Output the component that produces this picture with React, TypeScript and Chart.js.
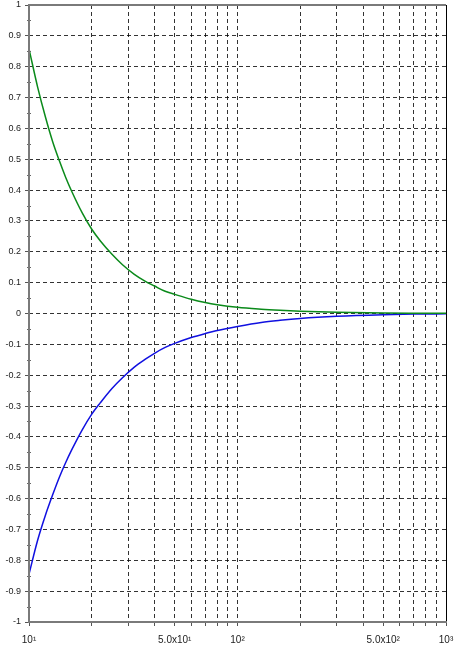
import React, { useEffect, useRef } from "react";
import { Chart, registerables } from "chart.js";

Chart.register(...registerables);

const xValues = [10, 11, 12, 13, 14, 15, 16, 18, 20, 22, 25, 28, 32, 36, 40, 45, 50, 60, 70, 80, 100, 130, 160, 200, 300, 500, 700, 1000];
const greenValues = [0.858, 0.734, 0.636, 0.556, 0.494, 0.441, 0.397, 0.326, 0.273, 0.235, 0.192, 0.159, 0.127, 0.105, 0.089, 0.072, 0.062, 0.046, 0.0355, 0.0285, 0.02, 0.014, 0.0105, 0.0075, 0.004, 0.0017, 0.001, 0.0005];
const blueValues = [-0.845, -0.735, -0.653, -0.587, -0.53, -0.483, -0.443, -0.377, -0.326, -0.289, -0.243, -0.209, -0.174, -0.149, -0.129, -0.11, -0.097, -0.078, -0.065, -0.055, -0.042, -0.029, -0.022, -0.016, -0.009, -0.004, -0.002, -0.001];

const xTickValues = [10, 20, 30, 40, 50, 60, 70, 80, 90, 100, 200, 300, 400, 500, 600, 700, 800, 900, 1000];
const xTickLabels: Record<number, string> = {
  10: "10¹",
  50: "5.0x10¹",
  100: "10²",
  500: "5.0x10²",
  1000: "10³",
};
const yTickValues = [-1, -0.9, -0.8, -0.7, -0.6, -0.5, -0.4, -0.3, -0.2, -0.1, 0, 0.1, 0.2, 0.3, 0.4, 0.5, 0.6, 0.7, 0.8, 0.9, 1];
const yMinorTickValues = [-0.95, -0.85, -0.75, -0.65, -0.55, -0.45, -0.35, -0.25, -0.15, -0.05, 0.05, 0.15, 0.25, 0.35, 0.45, 0.55, 0.65, 0.75, 0.85, 0.95];

const framePlugin = {
  id: "frame",
  afterDraw(chart: any) {
    const { ctx, chartArea } = chart;
    const { left, right, top, bottom } = chartArea;
    const yScale = chart.scales.y;
    ctx.save();
    ctx.strokeStyle = "#666";
    ctx.lineWidth = 1;
    ctx.beginPath();
    for (const v of yMinorTickValues) {
      const py = Math.round(yScale.getPixelForValue(v)) + 0.5;
      ctx.moveTo(left - 2, py);
      ctx.lineTo(left + 2, py);
    }
    ctx.stroke();
    ctx.strokeStyle = "#000";
    ctx.lineWidth = 1;
    ctx.beginPath();
    ctx.moveTo(Math.round(right) + 0.5, top);
    ctx.lineTo(Math.round(right) + 0.5, bottom);
    ctx.stroke();
    ctx.strokeStyle = "#7a7a7a";
    ctx.lineWidth = 2;
    ctx.beginPath();
    ctx.moveTo(left, top);
    ctx.lineTo(left, bottom + 1);
    ctx.moveTo(left - 1, bottom);
    ctx.lineTo(right + 1, bottom);
    ctx.moveTo(left - 1, top);
    ctx.lineTo(right, top);
    ctx.stroke();
    ctx.restore();
  },
};

export default function App() {
  const canvasRef = useRef<HTMLCanvasElement | null>(null);

  useEffect(() => {
    document.body.style.margin = "0";
    const canvas = canvasRef.current;
    if (!canvas) return;
    const chart = new Chart(canvas, {
      type: "line",
      data: {
        datasets: [
          {
            label: "green",
            data: xValues.map((x, i) => ({ x, y: greenValues[i] })),
            borderColor: "#0a8a1a",
            borderWidth: 1.5,
            pointRadius: 0,
            cubicInterpolationMode: "monotone",
          },
          {
            label: "blue",
            data: xValues.map((x, i) => ({ x, y: blueValues[i] })),
            borderColor: "#1010e0",
            borderWidth: 1.5,
            pointRadius: 0,
            cubicInterpolationMode: "monotone",
          },
        ],
      },
      plugins: [framePlugin],
      options: {
        responsive: false,
        animation: false,
        layout: { padding: { left: 0, top: 5, right: 9, bottom: 0 } },
        plugins: {
          legend: { display: false },
          tooltip: { enabled: false },
        },
        scales: {
          x: {
            type: "logarithmic",
            min: 10,
            max: 1000,
            afterBuildTicks(scale: any) {
              scale.ticks = xTickValues.map((v) => ({ value: v }));
            },
            afterFit(scale: any) {
              scale.height = 27;
              scale.paddingLeft = 0;
              scale.paddingRight = 0;
            },
            border: { display: false, dash: [4, 3] },
            grid: {
              color: "rgba(0,0,0,0.8)",
              lineWidth: 1,
              tickLength: 4,
              tickColor: "#555",
              tickBorderDash: [],
            },
            ticks: {
              autoSkip: false,
              maxRotation: 0,
              minRotation: 0,
              padding: 8,
              color: "#222",
              font: { family: "'Liberation Sans', Arial, sans-serif", size: 10 },
              callback: (v: any) => xTickLabels[Number(v)] ?? "",
            },
          },
          y: {
            type: "linear",
            min: -1,
            max: 1,
            afterBuildTicks(scale: any) {
              scale.ticks = yTickValues.map((v) => ({ value: v }));
            },
            afterFit(scale: any) {
              scale.width = 29;
              scale.paddingTop = 0;
              scale.paddingBottom = 0;
            },
            border: { display: false, dash: [4, 3] },
            grid: {
              color: "rgba(0,0,0,0.8)",
              lineWidth: 1,
              tickLength: 4,
              tickColor: "#555",
              tickBorderDash: [],
            },
            ticks: {
              autoSkip: false,
              padding: 4,
              color: "#222",
              font: { family: "'Liberation Sans', Arial, sans-serif", size: 9 },
              callback: (v: any) => String(Number(Number(v).toFixed(1))),
            },
          },
        },
      },
    });
    return () => chart.destroy();
  }, []);

  return (
    <div style={{ width: 455, height: 649 }}>
      <canvas ref={canvasRef} width={455} height={649} style={{ display: "block" }} />
    </div>
  );
}
